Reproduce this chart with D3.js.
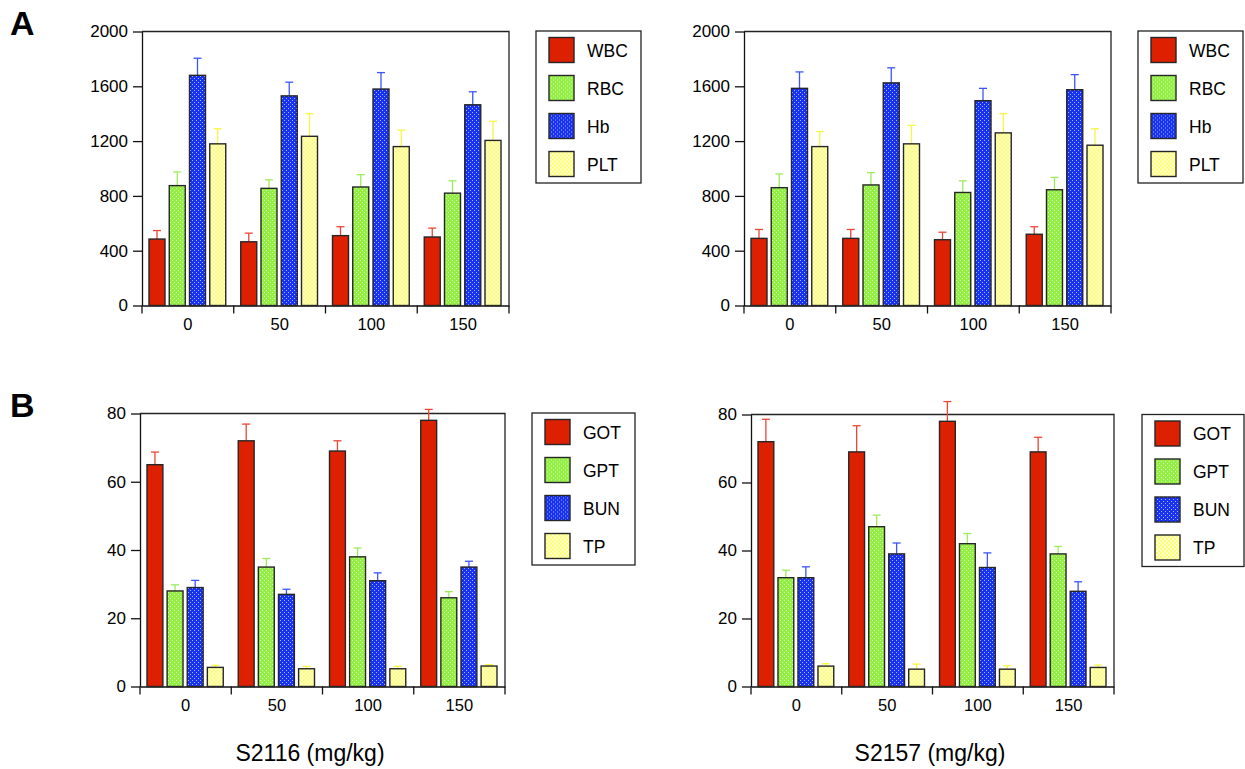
<!DOCTYPE html>
<html lang="en">
<head>
  <meta charset="UTF-8" />
  <title>S2116 / S2157 blood and biochemistry</title>
  <style>
    body { margin: 0; background: #fff; font-family: "Liberation Sans", Arial, sans-serif; }
    svg { display: block; }
  </style>
</head>
<body>
  <svg id="chart" width="1245" height="769"></svg>

  <script src="https://d3js.org/d3.v7.min.js"></script>
  <script>
    // ---- data ----
    const doses = ["0", "50", "100", "150"];
    const bloodSeries = ["WBC", "RBC", "Hb", "PLT"];
    const bioSeries = ["GOT", "GPT", "BUN", "TP"];
    const bloodTicks = [0, 400, 800, 1200, 1600, 2000];
    const bioTicks = [0, 20, 40, 60, 80];

    // rows = dose, columns = series
    const s2116Blood = [[485, 875, 1680, 1180], [465, 855, 1530, 1235], [510, 865, 1580, 1160], [500, 820, 1465, 1205]];
    const s2116BloodErr = [[62, 100, 125, 110], [63, 62, 100, 165], [65, 90, 120, 120], [65, 90, 95, 140]];
    const s2157Blood = [[490, 860, 1585, 1160], [490, 880, 1625, 1180], [480, 825, 1495, 1260], [520, 845, 1575, 1170]];
    const s2157BloodErr = [[65, 100, 120, 110], [65, 90, 110, 135], [55, 85, 90, 140], [55, 90, 110, 120]];

    const s2116Bio = [[65, 28, 29, 5.6], [72, 35, 27, 5.2], [69, 38, 31, 5.2], [78, 26, 35, 6.0]];
    const s2116BioErr = [[3.7, 1.8, 2.1, 0.6], [4.9, 2.5, 1.5, 0.7], [3.0, 2.6, 2.3, 0.7], [3.2, 1.8, 1.7, 0.4]];
    const s2157Bio = [[72, 32, 32, 6.0], [69, 47, 39, 5.1], [78, 42, 35, 5.1], [69, 39, 28, 5.6]];
    const s2157BioErr = [[6.6, 2.2, 3.2, 0.7], [7.7, 3.4, 3.2, 1.5], [5.8, 3.0, 4.3, 1.0], [4.3, 2.2, 2.8, 0.7]];

    const svg = d3.select("#chart");
    const font = '"Liberation Sans", Arial, sans-serif';

    // ---- fills ----
    const defs = svg.append("defs");

    function dotPattern(id, base, dot) {
      const p = defs.append("pattern").attr("id", id)
        .attr("patternUnits", "userSpaceOnUse").attr("width", 4).attr("height", 4);
      p.append("rect").attr("width", 4).attr("height", 4).attr("fill", base);
      p.append("rect").attr("x", 0).attr("y", 0).attr("width", 1).attr("height", 1).attr("fill", dot);
      p.append("rect").attr("x", 2).attr("y", 2).attr("width", 1).attr("height", 1).attr("fill", dot);
    }
    dotPattern("pGreen", "#94ef45", "#d6f9b8");
    dotPattern("pBlue", "#1732f0", "#a7b4ff");

    const py = defs.append("pattern").attr("id", "pYellow")
      .attr("patternUnits", "userSpaceOnUse").attr("width", 4).attr("height", 4);
    py.append("rect").attr("width", 4).attr("height", 4).attr("fill", "#ffffc8");
    py.append("path").attr("d", "M0,0 L4,4 M4,0 L0,4").attr("stroke", "#fdfd70").attr("stroke-width", 0.9);

    const fills = ["#dd2000", "url(#pGreen)", "url(#pBlue)", "url(#pYellow)"];
    const errColors = ["#ee4433", "#9ded5a", "#3a55ff", "#f7f740"];

    // ---- one panel ----
    function drawPanel(cfg) {
      const g = svg.append("g");
      const x = d3.scaleBand().domain(doses).range([cfg.x0, cfg.x1]);
      const y = d3.scaleLinear().domain([0, cfg.max]).range([cfg.y1, cfg.y0]);
      const inner = d3.scaleBand().domain(cfg.series)
        .range([7, x.bandwidth() - 8]).paddingInner(0.21);

      // frame top and right
      g.append("path")
        .attr("d", `M${cfg.x0},${cfg.y0} H${cfg.x1} V${cfg.y1}`)
        .attr("fill", "none").attr("stroke", "#222").attr("stroke-width", 1.3);

      // y axis
      const ya = g.append("g").attr("transform", `translate(${cfg.x0},0)`)
        .call(d3.axisLeft(y).tickValues(cfg.ticks).tickFormat(d3.format("d"))
          .tickSize(9).tickSizeOuter(0).tickPadding(5));
      ya.selectAll("text").attr("font-size", 17).attr("fill", "#000").style("font-family", font);
      ya.selectAll("line, path").attr("stroke", "#111").attr("stroke-width", 1.3);

      // x axis with labels centred in bands
      const xa = g.append("g").attr("transform", `translate(0,${cfg.y1})`)
        .call(d3.axisBottom(x).tickSize(0).tickSizeOuter(0).tickPadding(13));
      xa.selectAll("text").attr("font-size", 16.5).attr("fill", "#000").style("font-family", font);
      xa.select("path").attr("stroke", "#111").attr("stroke-width", 1.3);

      // ticks on the band boundaries
      const edges = doses.map(d => x(d)).concat([cfg.x1]);
      g.append("g").selectAll("line").data(edges).enter().append("line")
        .attr("x1", d => d).attr("x2", d => d)
        .attr("y1", cfg.y1).attr("y2", cfg.y1 + 8)
        .attr("stroke", "#111").attr("stroke-width", 1.3);

      const rows = [];
      doses.forEach((d, i) => cfg.series.forEach((s, j) => {
        rows.push({ dose: d, s: s, j: j, v: cfg.values[i][j], e: cfg.errors[i][j] });
      }));

      // error bars (upper only)
      const eb = g.append("g").selectAll("g").data(rows).enter().append("g")
        .attr("stroke", d => errColors[d.j]).attr("stroke-width", 1.3);
      eb.append("line")
        .attr("x1", d => x(d.dose) + inner(d.s) + inner.bandwidth() / 2)
        .attr("x2", d => x(d.dose) + inner(d.s) + inner.bandwidth() / 2)
        .attr("y1", d => y(d.v)).attr("y2", d => y(d.v + d.e));
      eb.append("line")
        .attr("x1", d => x(d.dose) + inner(d.s) + inner.bandwidth() / 2 - 4)
        .attr("x2", d => x(d.dose) + inner(d.s) + inner.bandwidth() / 2 + 4)
        .attr("y1", d => y(d.v + d.e)).attr("y2", d => y(d.v + d.e));

      // bars
      g.append("g").selectAll("rect").data(rows).enter().append("rect")
        .attr("x", d => x(d.dose) + inner(d.s))
        .attr("y", d => y(d.v))
        .attr("width", inner.bandwidth())
        .attr("height", d => y(0) - y(d.v))
        .attr("fill", d => fills[d.j])
        .attr("stroke", "#262626").attr("stroke-width", 1.4);

      // legend
      const lg = g.append("g").attr("transform", `translate(${cfg.lx},${cfg.ly})`);
      lg.append("rect").attr("width", cfg.lw).attr("height", 152)
        .attr("fill", "#fff").attr("stroke", "#222").attr("stroke-width", 1.3);
      const item = lg.selectAll("g").data(cfg.series).enter().append("g")
        .attr("transform", (d, i) => `translate(13,${6.5 + i * 38})`);
      item.append("rect").attr("width", 25).attr("height", 25)
        .attr("fill", (d, i) => fills[i]).attr("stroke", "#262626").attr("stroke-width", 1.4);
      item.append("text").attr("x", 38).attr("y", 19)
        .attr("font-size", 17.5).attr("fill", "#000").style("font-family", font)
        .text(d => d);
    }

    drawPanel({ x0: 142, x1: 509, y0: 31.5, y1: 305.5, max: 2000, ticks: bloodTicks,
      series: bloodSeries, values: s2116Blood, errors: s2116BloodErr, lx: 536, ly: 31, lw: 105 });
    drawPanel({ x0: 744, x1: 1111, y0: 31.5, y1: 305.5, max: 2000, ticks: bloodTicks,
      series: bloodSeries, values: s2157Blood, errors: s2157BloodErr, lx: 1138, ly: 31, lw: 105 });
    drawPanel({ x0: 140, x1: 505, y0: 413.5, y1: 686.5, max: 80, ticks: bioTicks,
      series: bioSeries, values: s2116Bio, errors: s2116BioErr, lx: 532, ly: 413, lw: 103 });
    drawPanel({ x0: 751, x1: 1114, y0: 414.5, y1: 686.5, max: 80, ticks: bioTicks,
      series: bioSeries, values: s2157Bio, errors: s2157BioErr, lx: 1142, ly: 414.5, lw: 102 });

    // panel letters
    svg.append("text").attr("x", 10).attr("y", 35).attr("font-size", 34).attr("font-weight", "bold")
      .style("font-family", font).text("A");
    svg.append("text").attr("x", 10).attr("y", 417).attr("font-size", 34).attr("font-weight", "bold")
      .style("font-family", font).text("B");

    // axis titles
    svg.append("text").attr("x", 310).attr("y", 761).attr("text-anchor", "middle")
      .attr("font-size", 23).attr("fill", "#000").style("font-family", font).text("S2116 (mg/kg)");
    svg.append("text").attr("x", 930).attr("y", 761).attr("text-anchor", "middle")
      .attr("font-size", 23).attr("fill", "#000").style("font-family", font).text("S2157 (mg/kg)");
  </script>
</body>
</html>
